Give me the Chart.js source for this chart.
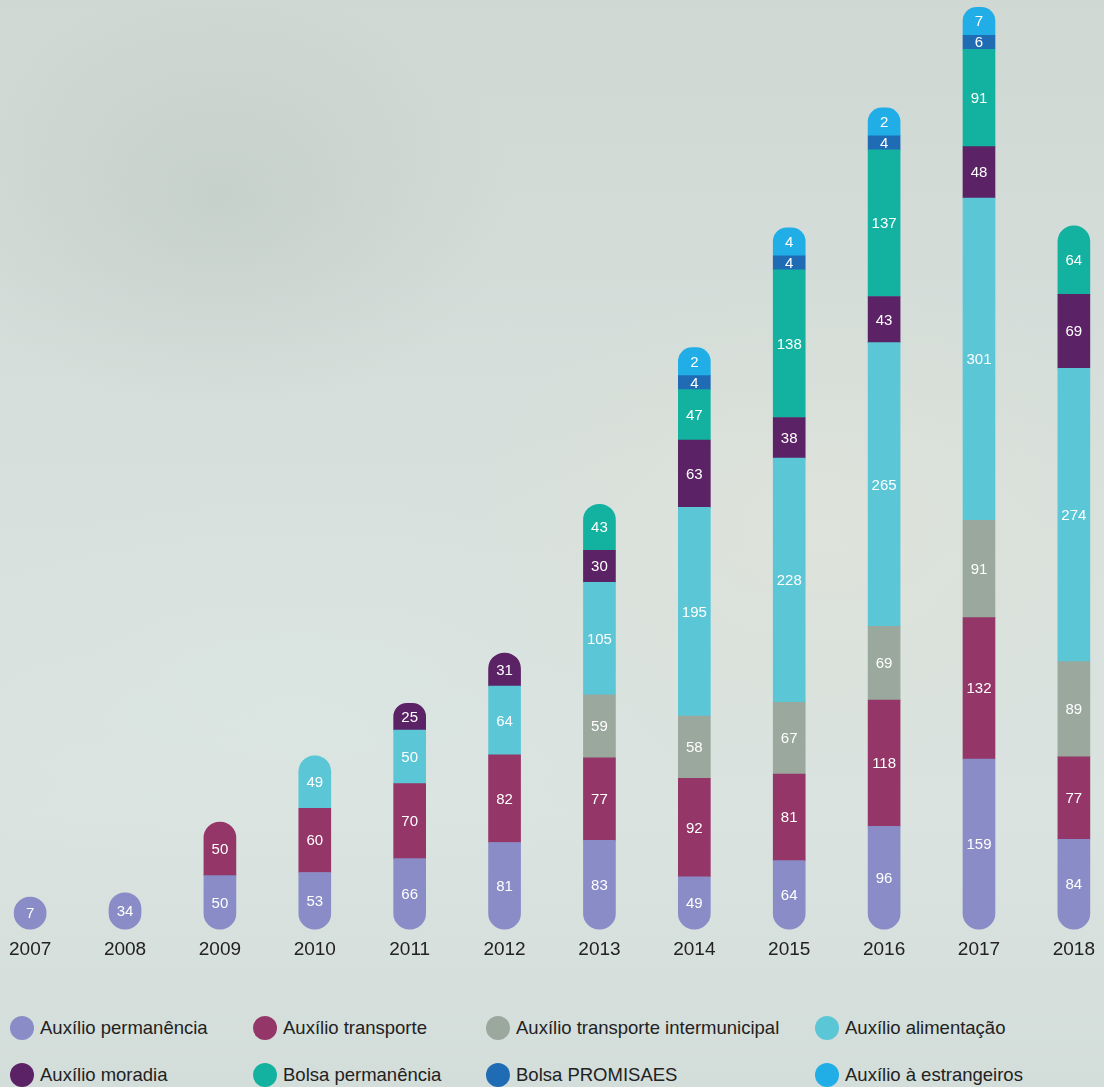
<!DOCTYPE html>
<html>
<head>
<meta charset="utf-8">
<script src="https://cdn.jsdelivr.net/npm/chart.js@4/dist/chart.umd.min.js"></script>
<style>
    html, body { margin: 0; padding: 0; }
    body {
        width: 1104px;
        height: 1087px;
        overflow: hidden;
        position: relative;
        font-family: "Liberation Sans", Arial, sans-serif;
        background:
            radial-gradient(ellipse 420px 300px at 220px 200px, rgba(165, 178, 172, 0.25), transparent 70%),
            radial-gradient(ellipse 500px 350px at 820px 520px, rgba(235, 230, 215, 0.35), transparent 70%),
            radial-gradient(ellipse 600px 300px at 300px 700px, rgba(220, 232, 230, 0.4), transparent 70%),
            linear-gradient(180deg, #cfd8d3 0%, #d7e0dc 45%, #dae3df 75%, #d3ddd9 100%);
    }
    #wrap { position: absolute; left: 0; top: 0; width: 1104px; height: 970px; }
    .legend { position: absolute; left: 0; top: 0; width: 1104px; }
    .item {
        position: absolute;
        display: flex;
        align-items: center;
        font-size: 18.5px;
        color: #222;
        white-space: nowrap;
        transform: translateY(-50%);
    }
    .dot { width: 24px; height: 24px; border-radius: 50%; margin-right: 6px; }
</style>
</head>
<body>
<div id="wrap"><canvas id="bolsasChart"></canvas></div>
<div class="legend" id="legend"></div>

<script>
// anos
const years = ['2007', '2008', '2009', '2010', '2011', '2012', '2013', '2014', '2015', '2016', '2017', '2018'];

// séries (de baixo para cima)
const auxPermanencia   = [7, 34, 50, 53, 66, 81, 83, 49, 64, 96, 159, 84];
const auxTransporte    = [null, null, 50, 60, 70, 82, 77, 92, 81, 118, 132, 77];
const auxIntermunicipal = [null, null, null, null, null, null, 59, 58, 67, 69, 91, 89];
const auxAlimentacao   = [null, null, null, 49, 50, 64, 105, 195, 228, 265, 301, 274];
const auxMoradia       = [null, null, null, null, 25, 31, 30, 63, 38, 43, 48, 69];
const bolsaPermanencia = [null, null, null, null, null, null, 43, 47, 138, 137, 91, 64];
const bolsaPromisaes   = [null, null, null, null, null, null, null, 4, 4, 4, 6, null];
const auxEstrangeiros  = [null, null, null, null, null, null, null, 2, 4, 2, 7, null];

const seriesNames = [
    'Auxílio permanência', 'Auxílio transporte', 'Auxílio transporte intermunicipal', 'Auxílio alimentação',
    'Auxílio moradia', 'Bolsa permanência', 'Bolsa PROMISAES', 'Auxílio à estrangeiros'
];
const seriesData = [
    auxPermanencia, auxTransporte, auxIntermunicipal, auxAlimentacao,
    auxMoradia, bolsaPermanencia, bolsaPromisaes, auxEstrangeiros
];
const seriesColors = [
    '#898cc6', '#943667', '#9aa89e', '#5bc6d6',
    '#5c2266', '#13b2a0', '#1f6cb5', '#21aee6'
];
// altura mínima para as fatias pequenas ficarem legíveis
const minLengths = [32, 0, 0, 0, 0, 0, 14, 28];

const legendCols = [10, 253, 486, 815];
const legendRows = [1028, 1075];

function topIndex(j) {
    let top = -1;
    seriesData.forEach((s, i) => { if (s[j] != null) top = i; });
    return top;
}

function radiusFor(ctx) {
    const i = ctx.datasetIndex, j = ctx.dataIndex;
    const r = 16;
    const isTop = i === topIndex(j);
    const isBottom = i === 0;
    return {
        topLeft: isTop ? r : 0,
        topRight: isTop ? r : 0,
        bottomLeft: isBottom ? r : 0,
        bottomRight: isBottom ? r : 0
    };
}

// números brancos dentro de cada fatia
const segmentLabels = {
    id: 'segmentLabels',
    afterDatasetsDraw(chart) {
        const ctx = chart.ctx;
        ctx.save();
        ctx.fillStyle = '#ffffff';
        ctx.font = '15px "Liberation Sans", Arial, sans-serif';
        ctx.textAlign = 'center';
        ctx.textBaseline = 'middle';
        chart.data.labels.forEach((_, j) => {
            let below = null;
            chart.data.datasets.forEach((ds, i) => {
                const v = ds.data[j];
                if (v == null) return;
                const bar = chart.getDatasetMeta(i).data[j];
                const bottom = below === null ? bar.base : Math.min(bar.base, below);
                ctx.fillText(String(v), bar.x, (bottom + bar.y) / 2 + 1);
                below = bar.y;
            });
        });
        ctx.restore();
    }
};

const ctx = document.getElementById('bolsasChart').getContext('2d');
new Chart(ctx, {
    type: 'bar',
    data: {
        labels: years,
        datasets: seriesData.map((d, i) => ({
            label: seriesNames[i],
            data: d,
            backgroundColor: seriesColors[i],
            borderWidth: 0,
            borderSkipped: false,
            borderRadius: radiusFor,
            barThickness: 32,
            clip: false,
            minBarLength: minLengths[i] || undefined
        }))
    },
    options: {
        responsive: true,
        maintainAspectRatio: false,
        animation: false,
        layout: { padding: { left: 28, right: 26, top: 0, bottom: 0 } },
        plugins: {
            legend: { display: false },
            tooltip: { enabled: false }
        },
        scales: {
            x: {
                stacked: true,
                offset: false,
                grid: { display: false, drawTicks: false },
                border: { display: false },
                ticks: {
                    color: '#222',
                    padding: 9,
                    font: { size: 19, family: '"Liberation Sans", Arial, sans-serif' }
                }
            },
            y: {
                stacked: true,
                display: false,
                min: 0,
                max: 868
            }
        }
    },
    plugins: [segmentLabels]
});

// legenda em HTML (2 linhas x 4 colunas)
const legend = document.getElementById('legend');
seriesNames.forEach((name, k) => {
    const item = document.createElement('div');
    item.className = 'item';
    item.style.left = legendCols[k % 4] + 'px';
    item.style.top = legendRows[Math.floor(k / 4)] + 'px';
    const dot = document.createElement('span');
    dot.className = 'dot';
    dot.style.background = seriesColors[k];
    item.appendChild(dot);
    item.appendChild(document.createTextNode(name));
    legend.appendChild(item);
});
</script>
</body>
</html>
